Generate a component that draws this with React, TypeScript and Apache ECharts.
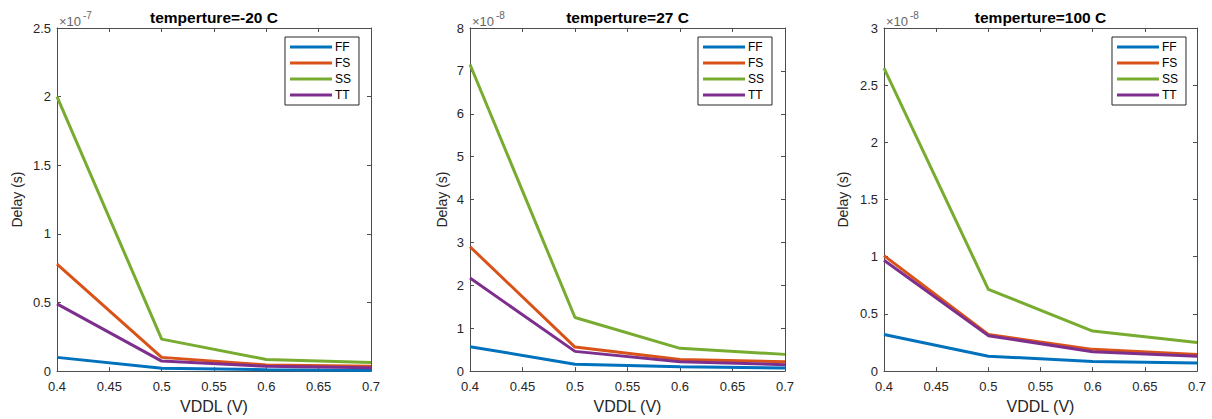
import React, { useEffect, useRef } from "react";
import * as echarts from "echarts";

const VDDL = [0.4, 0.5, 0.6, 0.7];
const NAMES = ["FF", "FS", "SS", "TT"];
const COLORS = ["#0072BD", "#D95319", "#77AC30", "#7E2F8E"];

// temperature = -20 C  (x 1e-7 s)
const FF_M20 = [0.1, 0.02, 0.01, 0.005];
const FS_M20 = [0.78, 0.1, 0.045, 0.035];
const SS_M20 = [2.0, 0.233, 0.085, 0.063];
const TT_M20 = [0.49, 0.073, 0.035, 0.025];

// temperature = 27 C  (x 1e-8 s)
const FF_27 = [0.57, 0.16, 0.1, 0.07];
const FS_27 = [2.9, 0.56, 0.27, 0.22];
const SS_27 = [7.15, 1.25, 0.53, 0.39];
const TT_27 = [2.17, 0.46, 0.22, 0.15];

// temperature = 100 C  (x 1e-8 s)
const FF_100 = [0.32, 0.13, 0.085, 0.07];
const FS_100 = [1.01, 0.32, 0.19, 0.145];
const SS_100 = [2.65, 0.715, 0.35, 0.25];
const TT_100 = [0.97, 0.31, 0.17, 0.13];

const TITLES = ["temperture=-20 C", "temperture=27 C", "temperture=100 C"];
const EXPONENTS = ["-7", "-8", "-8"];
const Y_MAX = [2.5, 8, 3];
const Y_STEP = [0.5, 1, 0.5];
const X_MIN = 0.4;
const X_MAX = 0.7;
const X_STEP = 0.05;

const PANELS = [
  [FF_M20, FS_M20, SS_M20, TT_M20],
  [FF_27, FS_27, SS_27, TT_27],
  [FF_100, FS_100, SS_100, TT_100],
];

const GRIDS = [
  { left: 57, width: 314 },
  { left: 470, width: 315 },
  { left: 884, width: 313 },
];
const GRID_TOP = 28;
const GRID_H = 344;
const NAME_GAPS = [33, 21, 34];
const LEGEND_RIGHT = [359, 772, 1186];

const FONT = "Liberation Sans, Arial, Helvetica, sans-serif";
const AXIS_COLOR = "#4d4d4d";
const TEXT_COLOR = "#262626";

function fmt(v: number) {
  return String(+v.toFixed(2));
}

export default function App() {
  const ref = useRef<HTMLDivElement>(null);
  useEffect(() => {
    if (!ref.current) return;
    const chart = echarts.init(ref.current, null, { renderer: "svg" });

    const grid: any[] = [];
    const xAxis: any[] = [];
    const yAxis: any[] = [];
    const series: any[] = [];
    const title: any[] = [];
    const legend: any[] = [];
    const graphic: any[] = [];

    PANELS.forEach((panel, i) => {
      const g = GRIDS[i];
      grid.push({
        left: g.left,
        top: GRID_TOP,
        width: g.width,
        height: GRID_H,
        show: false,
      });
      const tick = { show: true, inside: true, length: 4, lineStyle: { color: AXIS_COLOR } };
      const line = { show: true, onZero: false, lineStyle: { color: AXIS_COLOR, width: 1 } };
      xAxis.push({
        type: "value",
        gridIndex: i,
        min: X_MIN,
        max: X_MAX,
        interval: X_STEP,
        position: "bottom",
        axisLine: line,
        axisTick: tick,
        splitLine: { show: false },
        axisLabel: {
          formatter: fmt,
          color: TEXT_COLOR,
          fontFamily: FONT,
          fontSize: 13,
          margin: 9,
        },
        name: "VDDL (V)",
        nameLocation: "middle",
        nameGap: 25,
        nameTextStyle: { color: TEXT_COLOR, fontFamily: FONT, fontSize: 16 },
      });
      xAxis.push({
        type: "value",
        gridIndex: i,
        min: X_MIN,
        max: X_MAX,
        interval: X_STEP,
        position: "top",
        axisLine: line,
        axisTick: tick,
        splitLine: { show: false },
        axisLabel: { show: false },
      });
      yAxis.push({
        type: "value",
        gridIndex: i,
        min: 0,
        max: Y_MAX[i],
        interval: Y_STEP[i],
        position: "left",
        axisLine: line,
        axisTick: tick,
        splitLine: { show: false },
        axisLabel: {
          formatter: fmt,
          color: TEXT_COLOR,
          fontFamily: FONT,
          fontSize: 13,
          margin: 6,
        },
        name: "Delay (s)",
        nameLocation: "middle",
        nameGap: NAME_GAPS[i],
        nameRotate: 90,
        nameTextStyle: { color: TEXT_COLOR, fontFamily: FONT, fontSize: 14 },
      });
      yAxis.push({
        type: "value",
        gridIndex: i,
        min: 0,
        max: Y_MAX[i],
        interval: Y_STEP[i],
        position: "right",
        axisLine: line,
        axisTick: tick,
        splitLine: { show: false },
        axisLabel: { show: false },
      });

      panel.forEach((vals, k) => {
        series.push({
          type: "line",
          name: NAMES[k],
          xAxisIndex: i * 2,
          yAxisIndex: i * 2,
          data: VDDL.map((x, j) => [x, vals[j]]),
          showSymbol: false,
          symbol: "none",
          lineStyle: { width: 3, color: COLORS[k] },
          itemStyle: { color: COLORS[k] },
          z: 2 + k,
        });
      });

      title.push({
        text: TITLES[i],
        left: g.left + g.width / 2,
        top: 8,
        textAlign: "center",
        padding: 0,
        textStyle: { fontFamily: FONT, fontSize: 15.5, fontWeight: "bold", color: "#000", lineHeight: 18 },
      });

      legend.push({
        data: NAMES,
        orient: "vertical",
        right: 1212 - LEGEND_RIGHT[i],
        top: 37,
        icon: "rect",
        itemWidth: 42,
        itemHeight: 3,
        itemGap: 4,
        padding: [4, 8, 4, 5],
        borderColor: "#262626",
        borderWidth: 1,
        backgroundColor: "#fff",
        textStyle: { fontFamily: FONT, fontSize: 12, color: "#000", lineHeight: 12, padding: [0, 0, 0, -2] },
        selectedMode: false,
      });

      graphic.push({
        type: "text",
        x: g.left + 2,
        y: 21,
        style: {
          text: "×10",
          fontFamily: FONT,
          fontSize: 13,
          fill: "#666",
          verticalAlign: "middle",
          align: "left",
        },
      });
      graphic.push({
        type: "text",
        x: g.left + 26,
        y: 15,
        style: {
          text: EXPONENTS[i],
          fontFamily: FONT,
          fontSize: 10,
          fill: "#666",
          verticalAlign: "middle",
          align: "left",
        },
      });
    });

    chart.setOption({
      animation: false,
      backgroundColor: "#fff",
      grid,
      xAxis,
      yAxis,
      series,
      title,
      legend,
      graphic,
    });
    return () => chart.dispose();
  }, []);

  return (
    <div
      ref={ref}
      style={{ position: "fixed", left: 0, top: 0, width: 1212, height: 419 }}
    />
  );
}
